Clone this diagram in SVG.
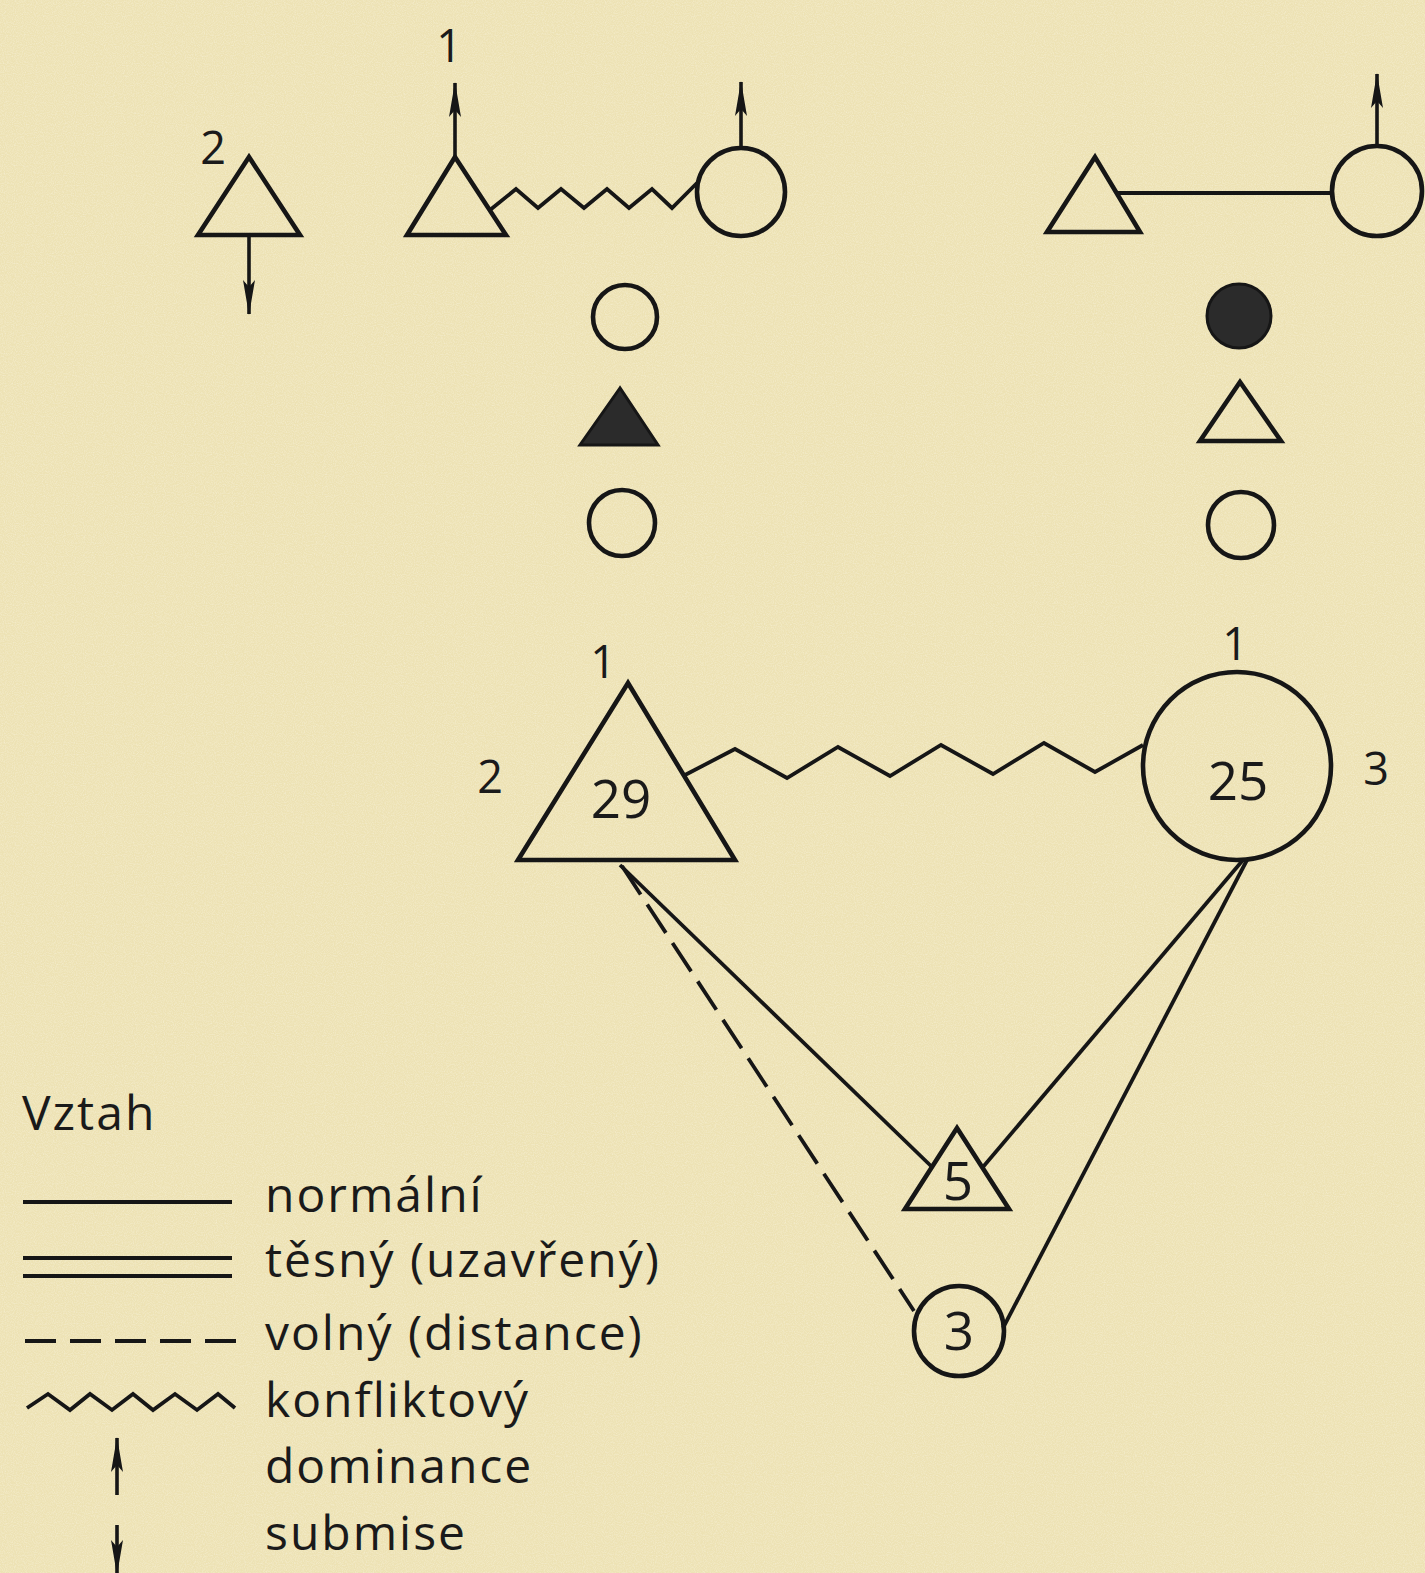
<svg xmlns="http://www.w3.org/2000/svg" width="1425" height="1573" viewBox="0 0 1425 1573">
<style>
.s{fill:none;stroke:#161616;stroke-width:4.6;stroke-linejoin:miter}
.l{fill:none;stroke:#161616;stroke-width:3.8;stroke-linecap:butt;stroke-linejoin:miter}
.f{fill:#2b2b2b;stroke:#161616;stroke-width:3}
.t{font-family:"Open Sans","Liberation Sans",sans-serif;fill:#1a1a1a}
.num{font-size:53px;text-anchor:middle}
.lab{font-size:45px;text-anchor:middle}
.leg{font-size:48px;letter-spacing:2px}
.arr{fill:none;stroke:#161616;stroke-width:3.6;marker-end:url(#ah)}
</style>
<defs>
<marker id="ah" markerUnits="userSpaceOnUse" viewBox="0 0 36 16" refX="35" refY="8" markerWidth="36" markerHeight="16" orient="auto">
<path d="M36,8 L1,2 L8,8 L1,14 Z" fill="#161616"/>
</marker>
<filter id="grain" x="0" y="0" width="100%" height="100%">
<feTurbulence type="fractalNoise" baseFrequency="0.9" numOctaves="2" seed="3"/>
<feColorMatrix type="matrix" values="0 0 0 0 1  0 0 0 0 0.98  0 0 0 0 0.9  0 0 0 1.2 -0.45"/>
</filter>
</defs>
<rect width="1425" height="1573" fill="#ede2b4"/>
<rect width="1425" height="1573" filter="url(#grain)" opacity="0.55"/>

<g id="connectors">
<polyline class="l" points="490,210 516,189 538,208 561,189 584,208 607,189 629,208 652,189 672,208 697,183"/>
<line class="l" x1="1117" y1="193" x2="1332" y2="193"/>
<polyline class="l" points="685,775 735,749 787,778 838,747 890,776 941,745 993,774 1044,743 1095,772 1143,745"/>
<line class="l" x1="620" y1="865" x2="931" y2="1166"/>
<line class="l" x1="622" y1="866" x2="914" y2="1311" stroke-dasharray="34 12"/>
<line class="l" x1="1243" y1="860" x2="983" y2="1167"/>
<line class="l" x1="1247" y1="860" x2="1003" y2="1328"/>
</g>

<g id="node-tri-left">
<polygon class="s" points="249,157 198,235 300,235"/>
<line class="arr" x1="249" y1="235" x2="249" y2="314"/>
<text class="t lab" x="213" y="164" font-size="36">2</text>
</g>

<g id="node-tri-mid">
<polygon class="s" points="455,157 407,235 506,235"/>
<line class="arr" x1="455" y1="157" x2="455" y2="83"/>
<text class="t lab" x="449" y="62" font-size="42">1</text>
</g>

<g id="node-circ-mid">
<circle class="s" cx="741" cy="192" r="44"/>
<line class="arr" x1="741" y1="148" x2="741" y2="82"/>
</g>

<g id="node-col1-circ1"><circle class="s" cx="625" cy="317" r="32"/></g>
<g id="node-col1-tri"><polygon class="f" points="620,388 580,445 658,445"/></g>
<g id="node-col1-circ2"><circle class="s" cx="622" cy="523" r="33"/></g>

<g id="node-tri-right">
<polygon class="s" points="1095,157 1047,232 1140,232"/>
</g>
<g id="node-circ-right">
<circle class="s" cx="1377" cy="191" r="45"/>
<line class="arr" x1="1377" y1="146" x2="1377" y2="74"/>
</g>

<g id="node-col2-circ1"><circle class="f" cx="1239" cy="316" r="32"/></g>
<g id="node-col2-tri"><polygon class="s" points="1240,382 1200,441 1281,441"/></g>
<g id="node-col2-circ2"><circle class="s" cx="1241" cy="525" r="33"/></g>

<g id="node-29">
<polygon class="s" points="628,683 518,860 735,860"/>
<text class="t num" x="621" y="818">29</text>
<text class="t lab" x="603" y="678">1</text>
<text class="t lab" x="490" y="793">2</text>
</g>

<g id="node-25">
<circle class="s" cx="1237" cy="766" r="94"/>
<text class="t num" x="1238" y="800">25</text>
<text class="t lab" x="1235" y="660">1</text>
<text class="t lab" x="1376" y="785">3</text>
</g>

<g id="node-5">
<polygon class="s" points="957,1128 905,1209 1009,1209"/>
<text class="t num" x="958" y="1200" font-size="50">5</text>
</g>

<g id="node-3">
<circle class="s" cx="959" cy="1331" r="45"/>
<text class="t num" x="959" y="1350">3</text>
</g>

<g id="legend">
<text class="t leg" x="22" y="1130">Vztah</text>
<line class="l" x1="23" y1="1202" x2="232" y2="1202"/>
<line class="l" x1="23" y1="1258" x2="232" y2="1258"/>
<line class="l" x1="23" y1="1276" x2="232" y2="1276"/>
<line class="l" x1="25" y1="1341" x2="237" y2="1341" stroke-dasharray="31 14"/>
<polyline class="l" points="27,1408 48,1394 70,1410 90,1394 112,1410 133,1394 153,1410 175,1394 197,1410 218,1394 235,1408"/>
<line class="arr" x1="117" y1="1495" x2="117" y2="1438"/>
<line class="arr" x1="117" y1="1525" x2="117" y2="1574"/>
<text class="t leg" x="265" y="1212">normální</text>
<text class="t leg" x="265" y="1277">těsný (uzavřený)</text>
<text class="t leg" x="265" y="1350">volný (distance)</text>
<text class="t leg" x="265" y="1417">konfliktový</text>
<text class="t leg" x="265" y="1483">dominance</text>
<text class="t leg" x="265" y="1550">submise</text>
</g>
</svg>
